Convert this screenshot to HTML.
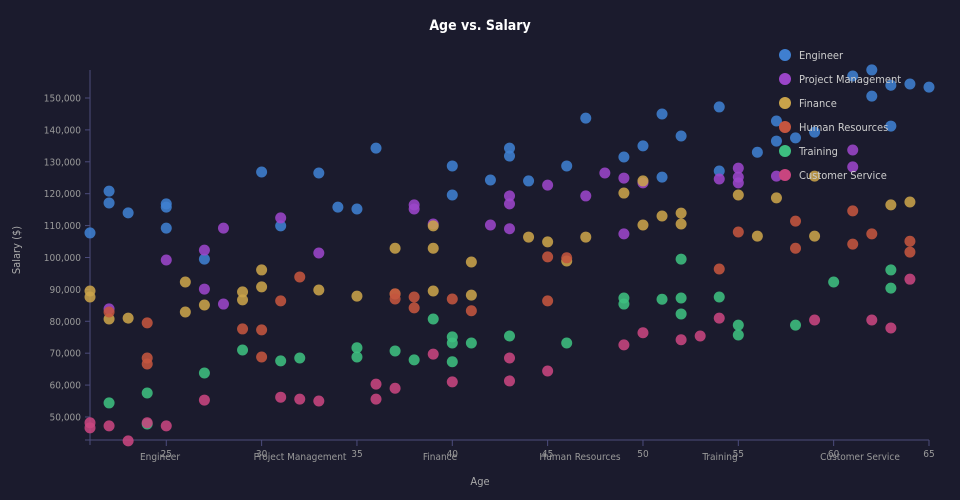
<!DOCTYPE html>
<html><head><meta charset="utf-8"><style>
body{margin:0;background:#1b1b2d;}
svg{display:block;font-family:"DejaVu Sans Condensed","Liberation Sans Narrow","Liberation Sans",sans-serif;font-stretch:condensed;}
</style></head><body>
<svg id="chart" width="960" height="500">
<rect width="960" height="500" fill="#1b1b2d"/>
<text x="480" y="30" text-anchor="middle" fill="#fff" font-size="14" font-weight="bold">Age vs. Salary</text>
<text transform="translate(20,250) rotate(-90)" text-anchor="middle" fill="#aaa" font-size="11">Salary ($)</text>
<text x="480" y="485" text-anchor="middle" fill="#aaa" font-size="11">Age</text>
<g id="axes"></g><g id="cats"></g><g id="dots"></g><g id="legend"></g>
</svg>
<script>
const departments=["Engineer","Project Management","Finance","Human Resources","Training","Customer Service"];
const colors=["#3f7fd0","#9b45c9","#c9a34a","#c4553f","#3dbf80","#c8457f"];
const xTicks=[25,30,35,40,45,50,55,60,65];
const yTicks=[50000,60000,70000,80000,90000,100000,110000,120000,130000,140000,150000];
const engAge=[21,22,22,23,25,25,25,27,30,31,33,34,35,36,40,40,42,43,43,44,46,47,49,50,51,51,52,54,54,56,57,57,58,59,61,62,62,63,63,64,65];
const engSal=[107.7,120.8,117.1,114,116.8,115.8,109.2,99.5,126.8,109.9,126.5,115.8,115.2,134.3,128.7,119.6,124.3,134.3,131.8,124,128.7,143.7,131.5,135,145,125.2,138.1,147.2,127.1,133,142.8,136.5,137.5,139.3,156.9,158.8,150.6,154,141.2,154.4,153.4];
const pmAge=[22,25,27,27,28,28,31,33,38,38,39,42,43,43,43,45,47,48,49,49,50,54,55,55,55,57,61,61];
const pmSal=[83.9,99.2,102.3,90.1,85.4,109.2,112.4,101.4,116.5,115.2,110.5,110.2,119.3,116.8,109,122.7,119.3,126.5,124.9,107.4,123.4,124.6,128,125.2,123.4,125.5,133.7,128.4];
const finAge=[21,21,22,23,26,26,27,29,29,30,30,33,35,37,37,39,39,39,41,41,44,45,46,47,49,50,50,51,52,52,55,56,57,59,59,63,64];
const finSal=[89.5,87.6,80.7,81,92.3,82.9,85.1,89.2,86.7,96.1,90.8,89.8,87.9,102.9,88.6,89.5,109.9,102.9,98.6,88.2,106.4,104.9,98.9,106.4,120.2,124,110.2,113,113.9,110.5,119.6,106.7,118.7,125.5,106.7,116.5,117.4];
const hrAge=[22,24,24,24,29,30,30,31,32,37,37,38,38,40,41,45,45,46,54,55,58,58,61,61,62,64,64];
const hrSal=[82.9,79.5,68.5,66.6,77.6,77.3,68.8,86.4,93.9,88.6,87,87.6,84.2,87,83.3,100.2,86.4,99.9,96.4,108,111.4,102.9,114.6,104.2,107.4,105.1,101.7];
const trAge=[22,24,24,27,29,31,32,35,35,37,38,39,40,40,40,41,43,46,49,49,51,52,52,52,54,55,55,58,60,63,63];
const trSal=[54.4,57.5,47.8,63.8,71,67.6,68.5,71.7,68.8,70.7,67.9,80.7,75.1,73.2,67.3,73.2,75.4,73.2,87.3,85.4,86.9,99.5,87.3,82.3,87.6,78.8,75.7,78.8,92.3,96.1,90.4];
const csAge=[21,21,22,23,24,25,27,31,32,33,36,36,37,39,40,43,43,45,49,50,52,53,54,59,62,63,64];
const csSal=[48.2,46.6,47.2,42.5,48.2,47.2,55.3,56.2,55.6,55,60.3,55.6,59,69.7,61,68.5,61.3,64.4,72.6,76.4,74.2,75.4,81,80.4,80.4,77.9,93.2];
const ages=[engAge,pmAge,finAge,hrAge,trAge,csAge];
const sals=[engSal,pmSal,finSal,hrSal,trSal,csSal];
const NS="http://www.w3.org/2000/svg";
const x=a=>90+(a-21)*(929-90)/(65-21);
const y=s=>440-(s-42780)*(440-70)/(158780-42780);
function mk(t,at,p){const e=document.createElementNS(NS,t);for(const k in at)e.setAttribute(k,at[k]);p.appendChild(e);return e;}
const axes=document.getElementById('axes');
const ac="#4c4c7c";
const xl=mk('line',{x1:85,y1:440,x2:929,y2:440,stroke:ac},axes);


const yl=mk('line',{x1:90,y1:70,x2:90,y2:445,stroke:ac},axes);


xTicks.forEach(t=>{
 const l=mk('line',{x1:x(t),y1:440,x2:x(t),y2:446,stroke:ac},axes);
 
 
 const tx=mk('text',{x:x(t),y:457,'text-anchor':'middle',fill:'#999','font-size':10},axes);
 tx.textContent=t;
 
 
});
yTicks.forEach(t=>{
 const l=mk('line',{x1:85,y1:y(t),x2:90,y2:y(t),stroke:ac},axes);
 
 
 const tx=mk('text',{x:81,y:y(t)+3.5,'text-anchor':'end',fill:'#999','font-size':10},axes);
 tx.textContent=t.toLocaleString('en-US');
 
 
});
const cats=document.getElementById('cats');
departments.forEach((d,i)=>{
 const tx=mk('text',{x:160+i*140,y:460,'text-anchor':'middle',fill:'#999','font-size':10},cats);
 tx.textContent=d;
 
 
});
const dots=document.getElementById('dots');
ages.forEach((arr,i)=>{
 arr.forEach((a,j)=>{
  const c=mk('circle',{cx:x(a),cy:y(sals[i][j]*1000),r:5.5,fill:colors[i],'fill-opacity':0.88},dots);
  
  
 });
});
const lg=document.getElementById('legend');
departments.forEach((d,i)=>{
 const c=mk('circle',{cx:785,cy:55+i*24,r:6,fill:colors[i]},lg);
 
 
 const tx=mk('text',{x:799,y:59+i*24,fill:'#ccc','font-size':11},lg);
 tx.textContent=d;
 
 
});
</script>
</body></html>
